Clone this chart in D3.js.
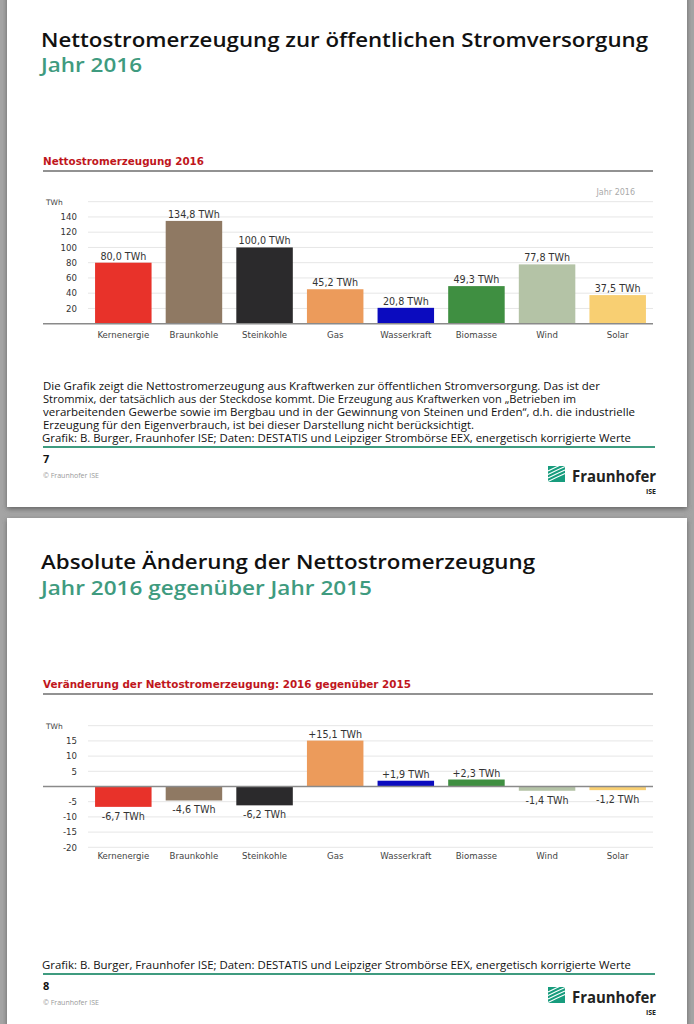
<!DOCTYPE html>
<html>
<head>
<meta charset="utf-8">
<script src="https://cdn.jsdelivr.net/npm/d3@7/dist/d3.min.js"></script>
<style>
  body { margin: 0; background: #a4a4a4; }
</style>
</head>
<body>
<div id="page"></div>
<script>
// Daten aus der Grafik
var categories = ["Kernenergie", "Braunkohle", "Steinkohle", "Gas", "Wasserkraft", "Biomasse", "Wind", "Solar"];
var values2016 = [80.0, 134.8, 100.0, 45.2, 20.8, 49.3, 77.8, 37.5];
var change1615 = [-6.7, -4.6, -6.2, 15.1, 1.9, 2.3, -1.4, -1.2];
var barColors = ["#e8322a", "#8f7963", "#2b2a2c", "#ec9b5b", "#0b0bbf", "#3f8f41", "#b4c3a6", "#f8cf72"];

var ticks2016 = [20, 40, 60, 80, 100, 120, 140];
var grid2016 = [20, 40, 60, 80, 100, 120, 140, 160];
var ticksChange = [15, 10, 5, -5, -10, -15, -20];
var gridChange = [20, 15, 10, 5, -5, -10, -15, -20];

var infoLines = [
    "Die Grafik zeigt die Nettostromerzeugung aus Kraftwerken zur öffentlichen Stromversorgung. Das ist der",
    "Strommix, der tatsächlich aus der Steckdose kommt. Die Erzeugung aus Kraftwerken von \u201EBetrieben im",
    "verarbeitenden Gewerbe sowie im Bergbau und in der Gewinnung von Steinen und Erden\u201C, d.h. die industrielle",
    "Erzeugung für den Eigenverbrauch, ist bei dieser Darstellung nicht berücksichtigt."
];
var infoWidths = [557, 533, 592, 431];
var sourceText = "Grafik: B. Burger, Fraunhofer ISE; Daten: DESTATIS und Leipziger Strombörse EEX, energetisch korrigierte Werte";

var green = "#3f9b7f";
var slideFont = "'Open Sans', 'Noto Sans', sans-serif";
var chartFont = "'DejaVu Sans', Verdana, sans-serif";

var svg = d3.select("#page")
    .append("svg")
    .attr("width", 694)
    .attr("height", 1024)
    .style("display", "block");

var defs = svg.append("defs");
defs.append("filter")
    .attr("id", "shadow")
    .attr("x", "-5%").attr("y", "-5%").attr("width", "110%").attr("height", "110%")
    .append("feDropShadow")
    .attr("dx", 0).attr("dy", 2).attr("stdDeviation", 2.5)
    .attr("flood-color", "#555").attr("flood-opacity", 0.8);

// two slide sheets
svg.append("rect").attr("x", 7).attr("y", -10).attr("width", 680).attr("height", 517)
    .attr("fill", "white").attr("filter", "url(#shadow)");
svg.append("rect").attr("x", 7).attr("y", 518).attr("width", 680).attr("height", 520)
    .attr("fill", "white").attr("filter", "url(#shadow)");

function fmt(v, sign) {
    var s = Math.abs(v).toFixed(1).replace(".", ",") + " TWh";
    if (!sign) return s;
    return (v < 0 ? "-" : "+") + s;
}

function addText(x, y, txt, size, color, weight, len, font) {
    var t = svg.append("text")
        .attr("x", x)
        .attr("y", y)
        .style("font-family", font || slideFont)
        .style("font-size", size + "px")
        .style("font-weight", weight || "normal")
        .attr("fill", color)
        .text(txt);
    if (len) {
        t.attr("textLength", len).attr("lengthAdjust", "spacingAndGlyphs");
    }
    return t;
}

function logo(y) {
    // Fraunhofer mark
    var g = svg.append("g").attr("transform", `translate(548, ${y})`);
    g.append("rect").attr("width", 17).attr("height", 16).attr("fill", "#179c7d");
    [3, 6.5, 10, 13.5].forEach(function (o) {
        g.append("path")
            .attr("d", `M0,${o + 2} Q8,${o - 2} 17,${o - 6}`)
            .attr("stroke", "white")
            .attr("stroke-width", 1.1)
            .attr("fill", "none");
    });
    addText(572, y + 16, "Fraunhofer", 16, "#222", "bold", 84);
    addText(656, y + 28, "ISE", 7, "#222", "bold").attr("text-anchor", "end");
}

function drawChart(opts) {
    var x = d3.scaleBand()
        .domain(categories)
        .range([88, 653])
        .paddingInner(0.2)
        .paddingOuter(0.1);

    var y = d3.scaleLinear()
        .domain(opts.domain)
        .range(opts.range);

    // red heading and rule
    addText(43, opts.headY, opts.head, 10, "#c0161c", "bold", opts.headLen, chartFont);
    svg.append("line")
        .attr("x1", 43).attr("x2", 653)
        .attr("y1", opts.headY + 6).attr("y2", opts.headY + 6)
        .attr("stroke", "#6e6e6e").attr("stroke-width", 1.5);

    // gridlines
    svg.append("g").selectAll("line")
        .data(opts.grid)
        .enter()
        .append("line")
        .attr("x1", 88).attr("x2", 653)
        .attr("y1", d => y(d)).attr("y2", d => y(d))
        .attr("stroke", "#e6e6e6").attr("stroke-width", 1);

    // left tick labels
    var leftAxis = d3.axisLeft(y).tickValues(opts.ticks).tickSize(0).tickPadding(0)
        .tickFormat(d => d);
    var ax = svg.append("g")
        .attr("transform", "translate(77, 0)")
        .call(leftAxis);
    ax.select(".domain").remove();
    ax.selectAll("text")
        .style("font-family", chartFont)
        .style("font-size", "8.6px")
        .attr("fill", "#333");

    addText(46, y(opts.domain[1]) + 3, "TWh", 7.5, "#444", "normal", null, chartFont);

    // bars
    svg.append("g").selectAll("rect")
        .data(opts.values)
        .enter()
        .append("rect")
        .attr("x", (d, i) => x(categories[i]))
        .attr("y", d => y(Math.max(0, d)))
        .attr("width", x.bandwidth())
        .attr("height", d => Math.abs(y(d) - y(0)))
        .attr("fill", (d, i) => barColors[i]);

    // value labels
    svg.append("g").selectAll("text")
        .data(opts.values)
        .enter()
        .append("text")
        .attr("x", (d, i) => x(categories[i]) + x.bandwidth() / 2)
        .attr("y", d => d >= 0 ? y(d) - 3 : y(d) + 13)
        .attr("text-anchor", "middle")
        .style("font-family", chartFont)
        .style("font-size", "9.6px")
        .attr("fill", "#333")
        .text(d => fmt(d, opts.sign));

    // zero line
    svg.append("line")
        .attr("x1", 43).attr("x2", 653)
        .attr("y1", y(0)).attr("y2", y(0))
        .attr("stroke", "#8a8a8a").attr("stroke-width", 1.5);

    // category labels
    svg.append("g").selectAll("text")
        .data(categories)
        .enter()
        .append("text")
        .attr("x", d => x(d) + x.bandwidth() / 2)
        .attr("y", opts.catY)
        .attr("text-anchor", "middle")
        .style("font-family", chartFont)
        .style("font-size", "8.6px")
        .attr("fill", "#444")
        .text(d => d);
}

function footer(y, num) {
    addText(42, y, sourceText, 11.5, "#111", "normal", 589);
    svg.append("line")
        .attr("x1", 43).attr("x2", 655)
        .attr("y1", y + 5).attr("y2", y + 5)
        .attr("stroke", green).attr("stroke-width", 2);
    addText(43, y + 21, num, 11, "#111", "bold");
    addText(43, y + 36, "\u00A9 Fraunhofer ISE", 6.5, "#999", "normal", 56);
}

// ---- Folie 7 ----
addText(41, 47, "Nettostromerzeugung zur öffentlichen Stromversorgung", 20.5, "#111", "600", 607);
addText(41, 72, "Jahr 2016", 20.5, green, "600", 101);

drawChart({
    head: "Nettostromerzeugung 2016",
    headY: 165,
    headLen: 161,
    domain: [0, 160],
    range: [323.7, 201.7],
    grid: grid2016,
    ticks: ticks2016,
    values: values2016,
    sign: false,
    catY: 337.5
});
addText(635, 195, "Jahr 2016", 8, "#aaa", "normal", null, chartFont).attr("text-anchor", "end");

infoLines.forEach(function (line, i) {
    addText(43, 390 + i * 13, line, 11.5, "#111", "normal", infoWidths[i]);
});
footer(442, "7");
logo(466);

// ---- Folie 8 ----
addText(41, 569, "Absolute Änderung der Nettostromerzeugung", 20.5, "#111", "600", 494);
addText(41, 595, "Jahr 2016 gegenüber Jahr 2015", 20.5, green, "600", 331);

drawChart({
    head: "Veränderung der Nettostromerzeugung: 2016 gegenüber 2015",
    headY: 688,
    headLen: 368,
    domain: [-20, 20],
    range: [847.3, 725.7],
    grid: gridChange,
    ticks: ticksChange,
    values: change1615,
    sign: true,
    catY: 859
});

footer(969, "8");
logo(987);
</script>
</body>
</html>
